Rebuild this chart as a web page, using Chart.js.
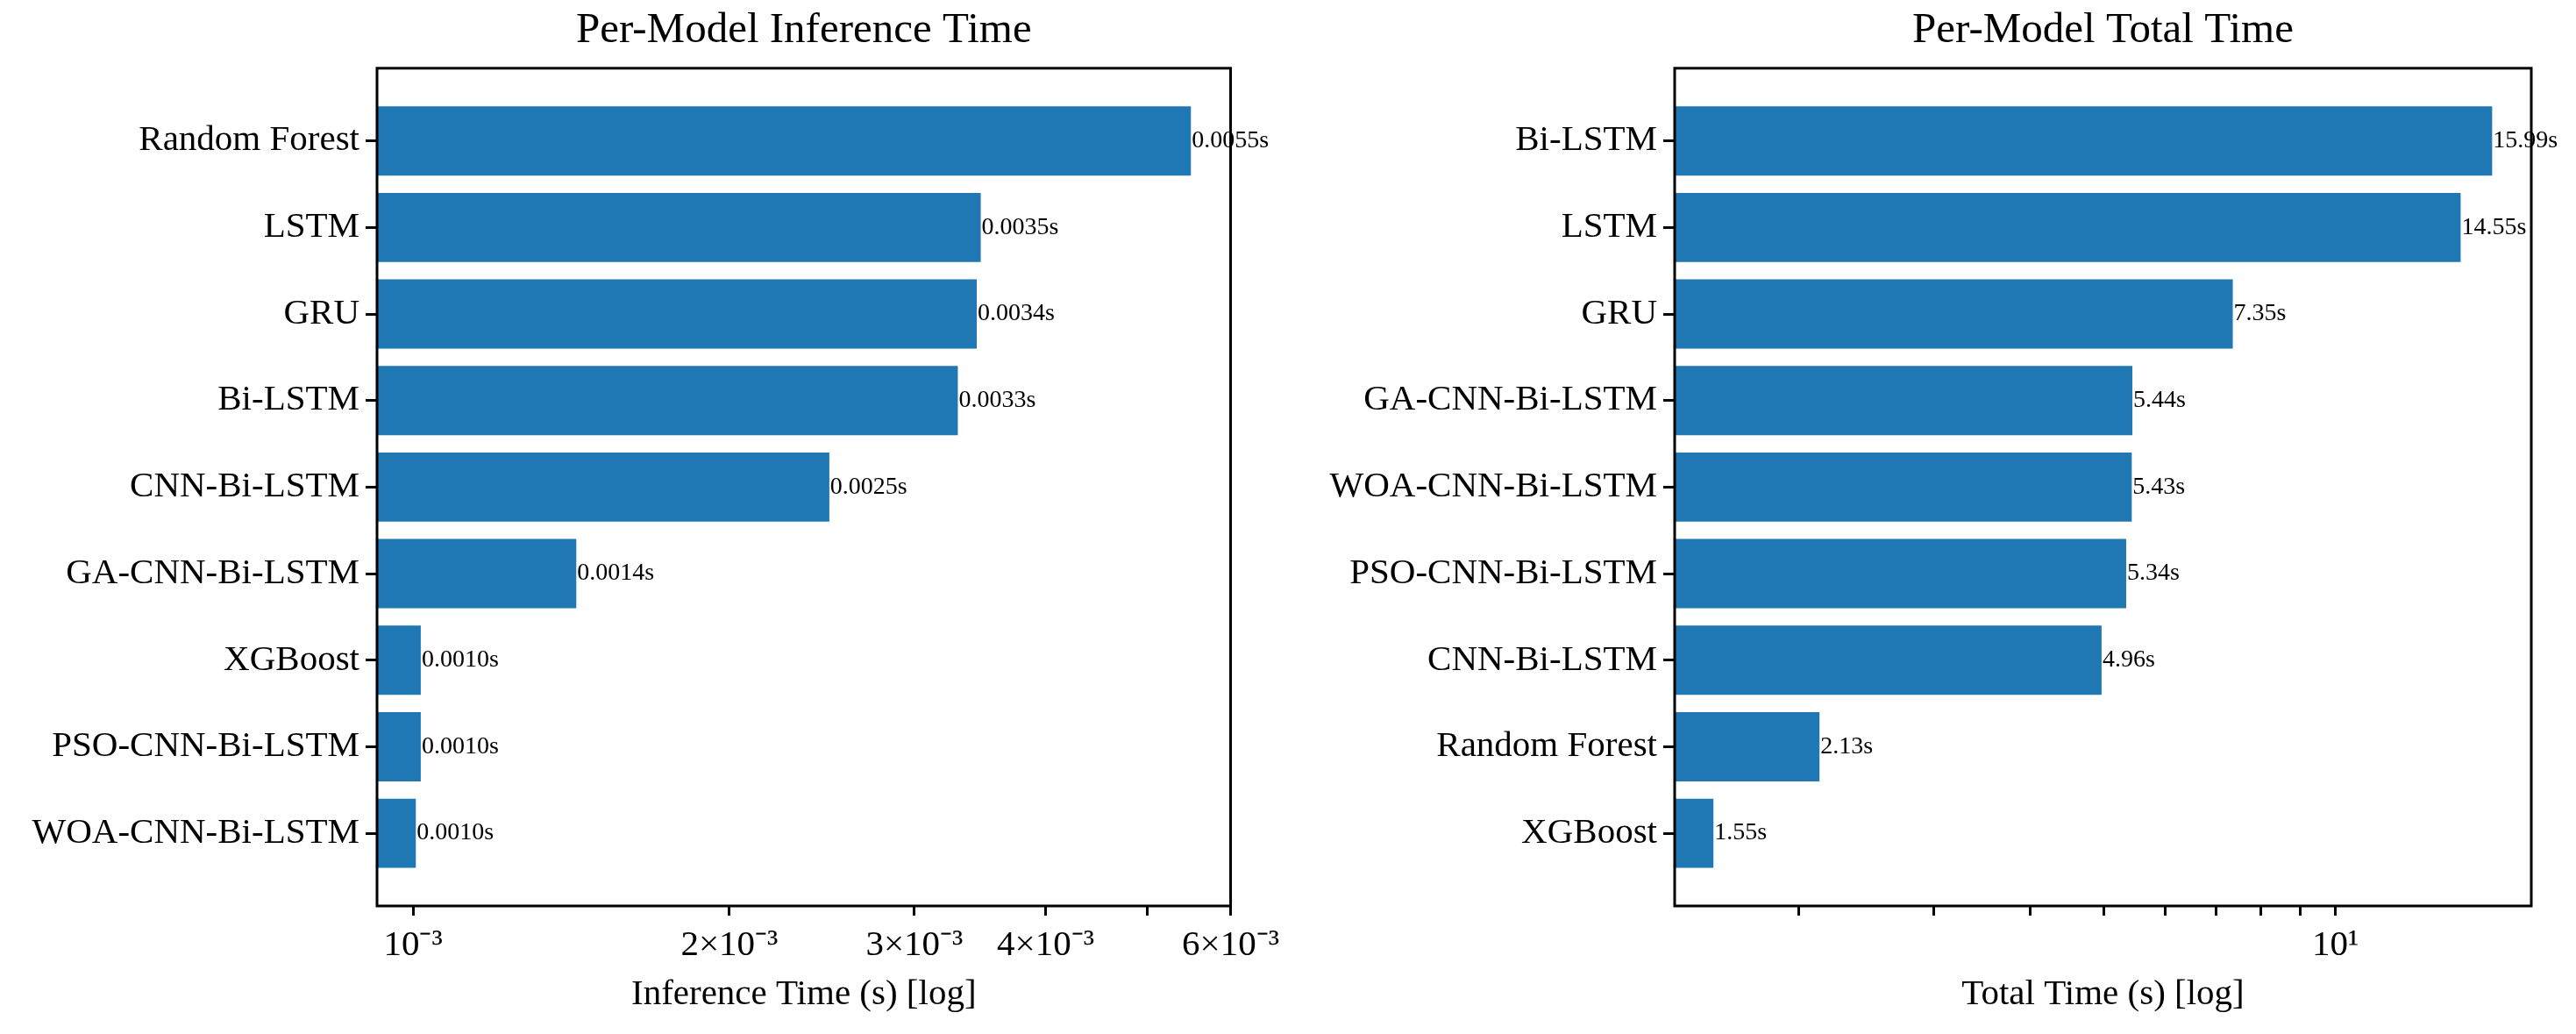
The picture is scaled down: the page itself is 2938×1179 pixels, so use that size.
<!DOCTYPE html>
<html>
<head>
<meta charset="utf-8">
<script src="https://cdn.jsdelivr.net/npm/chart.js@4.4.1/dist/chart.umd.min.js"></script>
<style>
  html, body { margin: 0; padding: 0; background: #fff; }
  .panel { position: absolute; top: 0; height: 1179px; }
  #left { left: 0; width: 1469px; }
  #right { left: 1469px; width: 1469px; }
</style>
</head>
<body>
<div class="panel" id="left"><canvas id="inferChart"></canvas></div>
<div class="panel" id="right"><canvas id="totalChart"></canvas></div>
<script>
// datos
const inferModels = ['Random Forest', 'LSTM', 'GRU', 'Bi-LSTM', 'CNN-Bi-LSTM', 'GA-CNN-Bi-LSTM', 'XGBoost', 'PSO-CNN-Bi-LSTM', 'WOA-CNN-Bi-LSTM'];
const inferTimes = [0.0055, 0.00347, 0.00344, 0.0033, 0.00249, 0.00143, 0.001017, 0.001017, 0.001006];
const inferTicks = [0.001, 0.002, 0.003, 0.004, 0.005, 0.006];
const inferTickLabels = ['10⁻³', '2×10⁻³', '3×10⁻³', '4×10⁻³', '', '6×10⁻³'];

const totalModels = ['Bi-LSTM', 'LSTM', 'GRU', 'GA-CNN-Bi-LSTM', 'WOA-CNN-Bi-LSTM', 'PSO-CNN-Bi-LSTM', 'CNN-Bi-LSTM', 'Random Forest', 'XGBoost'];
const totalTimes = [15.99, 14.55, 7.35, 5.44, 5.43, 5.34, 4.96, 2.13, 1.55];
const totalTicks = [2, 3, 4, 5, 6, 7, 8, 9, 10];
const totalTickLabels = ['', '', '', '', '', '', '', '', '10¹'];

const FONT = '"Liberation Serif", "Times New Roman", serif';
Chart.defaults.color = '#000';
Chart.defaults.font.family = FONT;

// etiquetas de valor al final de cada barra
function valueLabels(fmt) {
  return {
    id: 'valueLabels',
    afterDatasetsDraw(chart) {
      const ctx = chart.ctx;
      const meta = chart.getDatasetMeta(0);
      const data = chart.data.datasets[0].data;
      ctx.save();
      ctx.font = '28px ' + FONT;
      ctx.fillStyle = '#000';
      ctx.textBaseline = 'middle';
      ctx.textAlign = 'left';
      meta.data.forEach((bar, i) => {
        ctx.fillText(fmt(data[i].x), bar.x + 1, bar.y);
      });
      ctx.restore();
    }
  };
}

// marco completo del área del gráfico
const frame = {
  id: 'frame',
  afterDraw(chart) {
    const { ctx, chartArea: a } = chart;
    ctx.save();
    ctx.strokeStyle = '#000';
    ctx.lineWidth = 3;
    ctx.strokeRect(a.left, a.top, a.right - a.left, a.bottom - a.top);
    ctx.restore();
  }
};

function buildChart(id, cfg) {
  const ctx = document.getElementById(id).getContext('2d');
  return new Chart(ctx, {
    type: 'bar',
    data: {
      datasets: [{
        data: cfg.values.map((v, i) => ({ x: v, y: i })),
        backgroundColor: '#1f77b4',
        borderWidth: 0,
        barPercentage: 0.8,
        categoryPercentage: 1.0
      }]
    },
    options: {
      indexAxis: 'y',
      responsive: true,
      maintainAspectRatio: false,
      animation: false,
      layout: { padding: { left: 0, right: cfg.padRight, top: 0, bottom: 0 } },
      plugins: {
        legend: { display: false },
        tooltip: { enabled: false },
        title: {
          display: true,
          fullSize: false,
          text: cfg.title,
          font: { size: 49, weight: 'normal', family: FONT },
          color: '#000',
          padding: { top: 6, bottom: 13 }
        }
      },
      scales: {
        y: {
          type: 'linear',
          reverse: true,
          offset: false,
          min: -0.84,
          max: 8.84,
          afterBuildTicks: (scale) => {
            scale.ticks = cfg.names.map((n, i) => ({ value: i }));
          },
          afterFit: (scale) => { scale.width = cfg.yWidth; },
          ticks: {
            autoSkip: false,
            callback: (v) => cfg.names[v],
            font: { size: 41 },
            padding: 7
          },
          grid: { offset: false, drawOnChartArea: false, tickLength: 13, tickWidth: 3, tickColor: '#000' },
          border: { display: false }
        },
        x: {
          type: 'logarithmic',
          min: cfg.min,
          max: cfg.max,
          afterBuildTicks: (scale) => {
            scale.ticks = cfg.ticks.map(v => ({ value: v }));
          },
          afterFit: (scale) => { scale.height = 146; },
          ticks: {
            autoSkip: false,
            maxRotation: 0,
            callback: (v, i) => cfg.tickLabels[i],
            font: { size: 41 },
            padding: 10
          },
          grid: { drawOnChartArea: false, tickLength: 11, tickWidth: 3, tickColor: '#000' },
          border: { display: false },
          title: {
            display: true,
            text: cfg.axisTitle,
            font: { size: 41 },
            padding: { top: 0, bottom: 20 }
          }
        }
      }
    },
    plugins: [valueLabels(cfg.fmt), frame]
  });
}

buildChart('inferChart', {
  names: inferModels,
  values: inferTimes,
  ticks: inferTicks,
  tickLabels: inferTickLabels,
  min: 0.000924,
  max: 0.006,
  yWidth: 430,
  padRight: 64,
  title: 'Per-Model Inference Time',
  axisTitle: 'Inference Time (s) [log]',
  fmt: (v) => v.toFixed(4) + 's'
});

buildChart('totalChart', {
  names: totalModels,
  values: totalTimes,
  ticks: totalTicks,
  tickLabels: totalTickLabels,
  min: 1.38,
  max: 17.98,
  yWidth: 441,
  padRight: 51,
  title: 'Per-Model Total Time',
  axisTitle: 'Total Time (s) [log]',
  fmt: (v) => v.toFixed(2) + 's'
});
</script>
</body>
</html>
